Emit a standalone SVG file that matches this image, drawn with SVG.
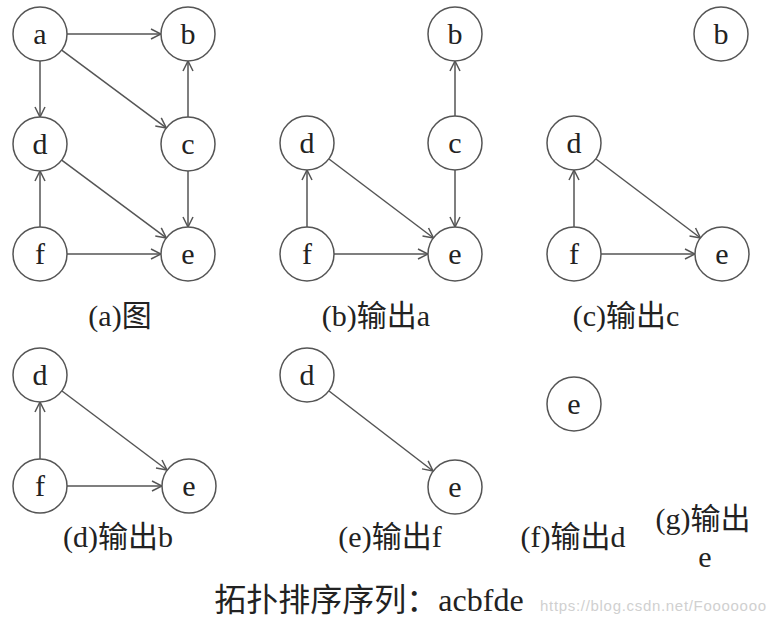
<svg xmlns="http://www.w3.org/2000/svg" width="770" height="625" viewBox="0 0 770 625">
<defs>
<style>
.n circle{fill:#fff;stroke:#555;stroke-width:1.5}
.n text{font-family:"Liberation Serif","Noto Sans CJK SC",serif;font-size:30px;fill:#222;text-anchor:middle}
.e line{stroke:#555;stroke-width:1.5;marker-end:url(#ah)}
.lbl{font-family:"Liberation Serif","Noto Sans CJK SC",serif;font-size:30px;fill:#222;text-anchor:middle}
</style>
<marker id="ah" viewBox="0 0 12 12" refX="11" refY="6" markerWidth="12" markerHeight="12" markerUnits="userSpaceOnUse" orient="auto">
<path d="M1,1 L11,6 L1,11" fill="none" stroke="#555" stroke-width="1.5"/>
</marker>
</defs>
<rect width="770" height="625" fill="#fff"/>

<g id="connectors" class="e">
<!-- (a) -->
<line x1="67" y1="34" x2="161" y2="34"/>
<line x1="40" y1="61" x2="40" y2="117"/>
<line x1="61.7" y1="50.1" x2="166.3" y2="127.9"/>
<line x1="188" y1="117" x2="188" y2="61"/>
<line x1="188" y1="171" x2="188" y2="227"/>
<line x1="61.7" y1="160.1" x2="166.3" y2="237.9"/>
<line x1="40" y1="227" x2="40" y2="171"/>
<line x1="67" y1="254" x2="161" y2="254"/>
<!-- (b) -->
<line x1="455" y1="116" x2="455" y2="61"/>
<line x1="455" y1="170" x2="455" y2="227"/>
<line x1="329" y1="159" x2="433.5" y2="238"/>
<line x1="307" y1="227" x2="307" y2="170"/>
<line x1="334" y1="254" x2="428" y2="254"/>
<!-- (c) -->
<line x1="596" y1="159" x2="700.5" y2="238"/>
<line x1="574" y1="227" x2="574" y2="170"/>
<line x1="601" y1="254" x2="695" y2="254"/>
<!-- (d) -->
<line x1="62" y1="391" x2="167" y2="470"/>
<line x1="40" y1="459" x2="40" y2="402"/>
<line x1="67" y1="486" x2="162" y2="486"/>
<!-- (e) -->
<line x1="329" y1="391" x2="433" y2="471"/>
</g>

<g id="a_a" class="n"><circle cx="40" cy="34" r="27"/><text x="40" y="44">a</text></g>
<g id="a_b" class="n"><circle cx="188" cy="34" r="27"/><text x="188" y="44">b</text></g>
<g id="a_d" class="n"><circle cx="40" cy="144" r="27"/><text x="40" y="154">d</text></g>
<g id="a_c" class="n"><circle cx="188" cy="144" r="27"/><text x="188" y="154">c</text></g>
<g id="a_f" class="n"><circle cx="40" cy="254" r="27"/><text x="40" y="264">f</text></g>
<g id="a_e" class="n"><circle cx="188" cy="254" r="27"/><text x="188" y="264">e</text></g>

<g id="b_b" class="n"><circle cx="455" cy="34" r="27"/><text x="455" y="44">b</text></g>
<g id="b_d" class="n"><circle cx="307" cy="143" r="27"/><text x="307" y="153">d</text></g>
<g id="b_c" class="n"><circle cx="455" cy="143" r="27"/><text x="455" y="153">c</text></g>
<g id="b_f" class="n"><circle cx="307" cy="254" r="27"/><text x="307" y="264">f</text></g>
<g id="b_e" class="n"><circle cx="455" cy="254" r="27"/><text x="455" y="264">e</text></g>

<g id="c_b" class="n"><circle cx="721" cy="34" r="27"/><text x="721" y="44">b</text></g>
<g id="c_d" class="n"><circle cx="574" cy="143" r="27"/><text x="574" y="153">d</text></g>
<g id="c_f" class="n"><circle cx="574" cy="254" r="27"/><text x="574" y="264">f</text></g>
<g id="c_e" class="n"><circle cx="722" cy="254" r="27"/><text x="722" y="264">e</text></g>

<g id="d_d" class="n"><circle cx="40" cy="375" r="27"/><text x="40" y="385">d</text></g>
<g id="d_f" class="n"><circle cx="40" cy="486" r="27"/><text x="40" y="496">f</text></g>
<g id="d_e" class="n"><circle cx="189" cy="486" r="27"/><text x="189" y="496">e</text></g>

<g id="e_d" class="n"><circle cx="307" cy="375" r="27"/><text x="307" y="385">d</text></g>
<g id="e_e" class="n"><circle cx="455" cy="487" r="27"/><text x="455" y="497">e</text></g>

<g id="f_e" class="n"><circle cx="574" cy="404" r="27"/><text x="574" y="414">e</text></g>

<g id="labels">
<text class="lbl" x="120" y="326">(a)图</text>
<text class="lbl" x="376" y="326">(b)输出a</text>
<text class="lbl" x="626" y="326">(c)输出c</text>
<text class="lbl" x="118" y="547">(d)输出b</text>
<text class="lbl" x="390" y="547">(e)输出f</text>
<text class="lbl" x="573" y="547">(f)输出d</text>
<text class="lbl" x="703" y="529">(g)输出</text>
<text class="lbl" x="705" y="567">e</text>
<text class="lbl" x="369" y="611" style="font-size:32px">拓扑排序序列：acbfde</text>
<text x="540" y="611" style="font-family:'Liberation Sans',sans-serif;font-size:15px;fill:#d0d0d0" textLength="226">https://blog.csdn.net/Fooooooo</text>
</g>
</svg>
